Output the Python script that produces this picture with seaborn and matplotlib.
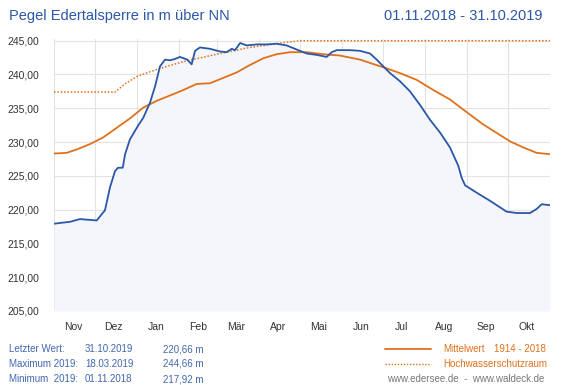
import numpy as np
import pandas as pd
import seaborn as sns
import matplotlib
matplotlib.use("Agg")
from matplotlib import pyplot as plt
import matplotlib.dates as mdates
from matplotlib.ticker import FuncFormatter, NullFormatter
from matplotlib.lines import Line2D

start = pd.Timestamp("2018-11-01")
end = pd.Timestamp("2019-11-01")

# Pegel 2018/19 (Tage seit 01.11.2018, m ueber NN)
pegel_tage = [0, 11.8, 19.1, 31.4, 37.5, 41.2, 44.9, 47.1, 50.6, 52.3, 55.9, 61.8, 65.7,
              70.6, 74.3, 78.0, 81.7, 85.4, 89.0, 92.7, 98.1, 101.3, 103.8, 107.4, 114.8,
              122.2, 127.1, 130.8, 133.2, 137, 141.8, 149.2, 156.5, 163.9, 171.2, 176.1,
              181.0, 186.0, 193.3, 200.7, 204.4, 208.0, 217.8, 225.2, 232.6, 237.5, 242.3,
              247.3, 254.6, 262.0, 269.3, 276.7, 284.1, 291.4, 297.5, 300.0, 302.5, 311.1,
              320.9, 333.1, 340.5, 350.3, 355.2, 358.9, 365]
pegel_werte = [217.92, 218.2, 218.6, 218.4, 219.9, 223.3, 225.7, 226.2, 226.2, 228.2, 230.4,
               232.4, 233.6, 235.8, 238.2, 241.2, 242.2, 242.1, 242.3, 242.6, 242.2, 241.5,
               243.5, 244.0, 243.8, 243.4, 243.3, 243.8, 243.6, 244.66, 244.3, 244.45, 244.45,
               244.55, 244.3, 243.9, 243.5, 243.1, 242.9, 242.6, 243.3, 243.6, 243.6, 243.5,
               243.1, 242.2, 241.2, 240.2, 239.0, 237.5, 235.5, 233.3, 231.4, 229.2, 226.5,
               224.7, 223.6, 222.5, 221.3, 219.7, 219.5, 219.5, 220.1, 220.8, 220.66]

# Mittelwert 1914 - 2018
mittel_tage = [0, 9.3, 16.7, 26.5, 36.3, 46.1, 55.9, 65.7, 75.6, 85.4, 95.2, 105.0, 114.8,
               124.6, 134.4, 144.2, 154.0, 163.9, 173.7, 186.0, 198.2, 210.5, 225.2, 232.6,
               244.8, 254.6, 266.9, 279.1, 291.4, 301.2, 315.9, 335.6, 345.4, 355.2, 365]
mittel_werte = [228.3, 228.4, 228.9, 229.7, 230.7, 232.1, 233.5, 235.1, 236.1, 236.9, 237.7,
                238.6, 238.7, 239.5, 240.3, 241.4, 242.4, 243.0, 243.3, 243.3, 243.0, 242.8,
                242.2, 241.7, 240.9, 240.2, 239.2, 237.7, 236.3, 234.8, 232.6, 230.1, 229.2,
                228.4, 228.2]

# Hochwasserschutzraum
hws_tage = [0, 44.9, 52.3, 60.9, 70.6, 82.9, 95.2, 119.7, 144.2, 168.7, 181.0, 365]
hws_werte = [237.4, 237.4, 238.6, 239.7, 240.4, 241.2, 241.9, 243.0, 244.0, 244.7, 245.0, 245.0]

monate = ["Nov", "Dez", "Jan", "Feb", "Mär", "Apr", "Mai", "Jun", "Jul", "Aug", "Sep", "Okt"]
y_ticks = [205, 210, 215, 220, 225, 230, 235, 240, 245]

infos = [("Letzter Wert:", "31.10.2019", "220,66 m"),
         ("Maximum 2019:", "18.03.2019", "244,66 m"),
         ("Minimum  2019:", "01.11.2018", "217,92 m")]

blau = "#2b57a7"
orange = "#e0711c"

def to_df(tage, werte):
    return pd.DataFrame({"datum": start + pd.to_timedelta(tage, unit="D"), "wert": werte})

pegel = to_df(pegel_tage, pegel_werte)
mittel = to_df(mittel_tage, mittel_werte)
hws = to_df(hws_tage, hws_werte)

sns.set_theme(style="white")
plt.rcParams["font.family"] = ["Liberation Sans", "DejaVu Sans"]

fig = plt.figure(figsize=(5.8, 3.85), dpi=100)
ax = fig.add_axes([54 / 580, 74 / 385, 496 / 580, 272 / 385])

ax.fill_between(pegel["datum"], pegel["wert"], 205, color="#f4f6fc", lw=0, zorder=1)
sns.lineplot(data=mittel, x="datum", y="wert", ax=ax, color=orange, lw=1.3, zorder=3)
sns.lineplot(data=hws, x="datum", y="wert", ax=ax, color=orange, lw=1.1,
             linestyle=(0, (1, 1.2)), zorder=3)
sns.lineplot(data=pegel, x="datum", y="wert", ax=ax, color=blau, lw=1.3, zorder=4)

ax.set_xlim(start, end)
ax.set_ylim(205, 245.25)
ax.set_yticks(y_ticks)
ax.yaxis.set_major_formatter(FuncFormatter(lambda v, p: f"{v:.2f}".replace(".", ",")))

ax.xaxis.set_major_locator(mdates.MonthLocator())
ax.xaxis.set_major_formatter(NullFormatter())
ax.xaxis.set_minor_locator(mdates.MonthLocator(bymonthday=15))
ax.xaxis.set_minor_formatter(FuncFormatter(
    lambda v, p: monate[(mdates.num2date(v).month - 11) % 12]))

ax.grid(True, which="major", color="#e3e3e3", lw=0.8, zorder=0)
ax.grid(False, which="minor")
ax.tick_params(axis="both", which="both", length=0, labelsize=7.5, colors="#333333")
ax.tick_params(axis="y", pad=10.7)
ax.tick_params(axis="x", which="minor", pad=8)
ax.set_xlabel("")
ax.set_ylabel("")
for s in ax.spines.values():
    s.set_visible(False)

fig.text(9 / 580, 1 - 16 / 385, "Pegel Edertalsperre in m über NN", color=blau,
         fontsize=10.5, va="center", ha="left")
fig.text(543 / 580, 1 - 16 / 385, "01.11.2018 - 31.10.2019", color=blau,
         fontsize=10.5, va="center", ha="right")

info_farbe = "#4167ad"
for i, (a, b, c) in enumerate(infos):
    y = 1 - (349 + 15 * i) / 385
    fig.text(9 / 580, y, a, color=info_farbe, fontsize=7, va="center")
    fig.text(85 / 580, y, b, color=info_farbe, fontsize=7, va="center")
    fig.text(163 / 580, y, c, color=info_farbe, fontsize=7, va="center")

y1 = 1 - 349 / 385
y2 = 1 - 364 / 385
fig.add_artist(Line2D([385 / 580, 431 / 580], [y1, y1], color=orange, lw=1.3))
fig.add_artist(Line2D([385 / 580, 431 / 580], [y2, y2], color=orange, lw=1.0,
                      linestyle=(0, (1, 1.2))))
fig.text(443 / 580, y1, "Mittelwert", color=orange, fontsize=7, va="center")
fig.text(546 / 580, y1, "1914 - 2018", color=orange, fontsize=7, va="center", ha="right")
fig.text(443 / 580, y2, "Hochwasserschutzraum", color=orange, fontsize=7, va="center")
fig.text(387 / 580, 1 - 379 / 385, "www.edersee.de  -  www.waldeck.de", color="#777777",
         fontsize=7, va="center")

fig.savefig("out.png", dpi=100)
